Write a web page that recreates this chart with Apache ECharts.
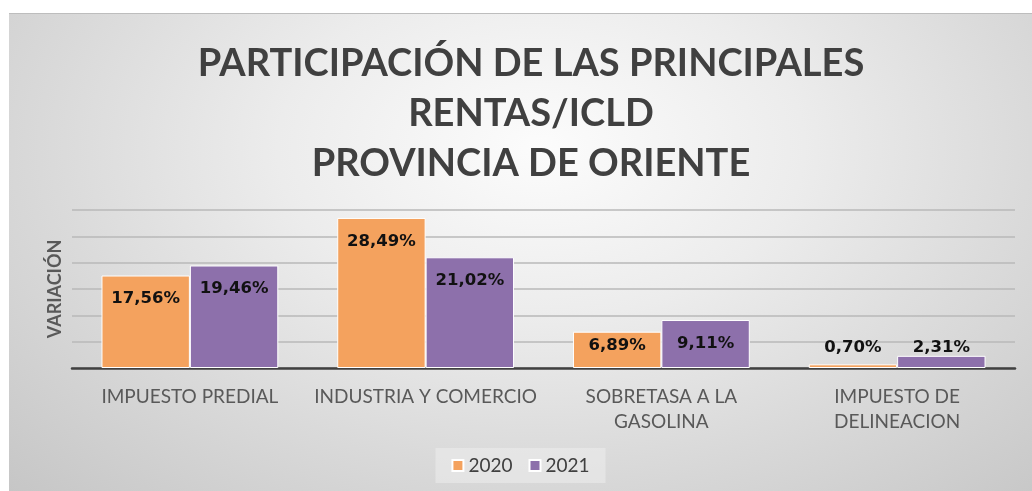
<!DOCTYPE html>
<html>
<head>
<meta charset="utf-8">
<script src="https://cdn.jsdelivr.net/npm/echarts@6/dist/echarts.min.js"></script>
<style>
html,body{margin:0;padding:0;background:#ffffff;}
#chart{position:absolute;left:9px;top:13px;width:1023px;height:478px;border-top:1px solid #bdbdbd;box-sizing:border-box;
  background:radial-gradient(ellipse farthest-corner at 52% 28%, #fcfcfc 0%, #ececec 35%, #dadada 65%, #c6c6c6 100%);}
</style>
</head>
<body>
<div id="chart"></div>
<script>
const categories = ['IMPUESTO PREDIAL', 'INDUSTRIA Y COMERCIO', 'SOBRETASA A LA\nGASOLINA', 'IMPUESTO DE\nDELINEACION'];
const seriesNames = ['2020', '2021'];
const values2020 = [17.56, 28.49, 6.89, 0.70];
const values2021 = [19.46, 21.02, 9.11, 2.31];
const yMin = 0, yMax = 30, yInterval = 5;

const chart = echarts.init(document.getElementById('chart'));
const fmt = p => p.value.toFixed(2).replace('.', ',') + '%';
const labelBase = {
  show: true, position: 'insideTop', distance: 15,
  fontFamily: 'DejaVu Sans', fontWeight: 'bold', fontSize: 16.5, color: '#111',
  formatter: fmt
};
// per-point label placement tweaks for short bars
const labelTweaks = {
  '0-2': {distance: 6},
  '0-3': {position: 'top', distance: 8},
  '1-3': {position: 'top', distance: 0}
};
function buildData(vals, si) {
  return vals.map((v, i) => {
    const t = labelTweaks[si + '-' + i];
    return t ? {value: v, label: t} : {value: v};
  });
}
const colors = ['#F4A25E', '#8D70AB'];
chart.setOption({
  backgroundColor: 'transparent',
  animation: false,
  title: {
    text: 'PARTICIPACIÓN DE LAS PRINCIPALES\nRENTAS/ICLD\nPROVINCIA DE ORIENTE',
    left: 517, top: 20, textAlign: 'center',
    textStyle: {fontFamily: 'Lato', fontWeight: 'bold', fontSize: 38, lineHeight: 50, color: '#404040'}
  },
  legend: {
    data: seriesNames, bottom: 8, left: 'center',
    itemWidth: 11, itemHeight: 11, itemGap: 16, icon: 'rect',
    backgroundColor: 'rgba(240,240,240,0.5)', padding: [8, 16],
    textStyle: {fontFamily: 'Lato', fontSize: 19, color: '#404040'}
  },
  grid: {left: 63, right: 17, top: 196, bottom: 123},
  xAxis: {
    type: 'category', data: categories,
    axisLine: {lineStyle: {color: '#404040', width: 2.5}},
    axisTick: {show: false},
    axisLabel: {fontFamily: 'Lato', fontSize: 19, color: '#595959', margin: 16, lineHeight: 25, interval: 0}
  },
  yAxis: {
    type: 'value', min: yMin, max: yMax, interval: yInterval,
    name: 'VARIACIÓN', nameLocation: 'middle', nameGap: 8, nameRotate: 90,
    nameTextStyle: {fontFamily: 'Lato', fontWeight: 'bold', fontSize: 18, color: '#595959'},
    axisLabel: {show: false}, axisLine: {show: false}, axisTick: {show: false},
    splitLine: {lineStyle: {color: '#b8b8b8', width: 1.5}}
  },
  series: [
    {name: seriesNames[0], type: 'bar', data: buildData(values2020, 0), barGap: '0%', barCategoryGap: '25%',
     itemStyle: {color: colors[0], borderColor: '#ffffff', borderWidth: 1}, label: labelBase},
    {name: seriesNames[1], type: 'bar', data: buildData(values2021, 1),
     itemStyle: {color: colors[1], borderColor: '#ffffff', borderWidth: 1}, label: labelBase}
  ]
});
</script>
</body>
</html>
